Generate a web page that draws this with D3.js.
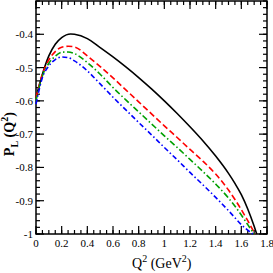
<!DOCTYPE html>
<html>
<head>
<meta charset="utf-8">
<script src="https://cdn.jsdelivr.net/npm/d3@7"></script>
<style>
  body { margin: 0; background: #fff; }
  text { font-family: "Liberation Serif", "DejaVu Serif", serif; }
</style>
</head>
<body>
<div id="chart"></div>
<script>
// values
const q2Black = [0, 0.05, 0.1, 0.15, 0.2, 0.27, 0.3, 0.4, 0.5, 0.6, 0.7, 0.8, 0.9, 1.0, 1.1, 1.2, 1.3, 1.4, 1.5, 1.55, 1.6, 1.65, 1.7, 1.72];
const pBlack  = [-0.59, -0.52, -0.465, -0.43, -0.41, -0.399, -0.4, -0.413, -0.44, -0.468, -0.498, -0.53, -0.564, -0.6, -0.638, -0.678, -0.72, -0.766, -0.818, -0.848, -0.882, -0.925, -0.977, -1.0];

const q2Red = [0, 0.05, 0.1, 0.15, 0.2, 0.25, 0.3, 0.4, 0.5, 0.6, 0.7, 0.8, 0.9, 1.0, 1.1, 1.2, 1.3, 1.4, 1.5, 1.6, 1.65, 1.7, 1.707];
const pRed  = [-0.59, -0.52, -0.477, -0.452, -0.439, -0.436, -0.438, -0.465, -0.497, -0.531, -0.567, -0.603, -0.639, -0.675, -0.71, -0.746, -0.781, -0.82, -0.868, -0.927, -0.96, -0.995, -1.0];

const q2Green = [0, 0.05, 0.1, 0.15, 0.2, 0.25, 0.3, 0.4, 0.5, 0.6, 0.7, 0.8, 0.9, 1.0, 1.1, 1.2, 1.3, 1.4, 1.5, 1.6, 1.65, 1.7];
const pGreen  = [-0.6, -0.525, -0.487, -0.466, -0.454, -0.453, -0.458, -0.485, -0.52, -0.56, -0.597, -0.633, -0.669, -0.705, -0.74, -0.776, -0.812, -0.85, -0.892, -0.943, -0.972, -1.0];

const q2Blue = [0, 0.05, 0.1, 0.15, 0.2, 0.25, 0.3, 0.4, 0.5, 0.6, 0.7, 0.8, 0.9, 1.0, 1.1, 1.2, 1.3, 1.4, 1.5, 1.55, 1.6, 1.69];
const pBlue  = [-0.61, -0.53, -0.495, -0.476, -0.468, -0.47, -0.48, -0.51, -0.549, -0.589, -0.627, -0.665, -0.702, -0.74, -0.777, -0.815, -0.852, -0.89, -0.93, -0.951, -0.972, -1.0];

const xTicks = [0, 0.2, 0.4, 0.6, 0.8, 1, 1.2, 1.4, 1.6, 1.8];
const yTicks = [-1, -0.9, -0.8, -0.7, -0.6, -0.5, -0.4];

const W = 273, H = 273;
const margin = { top: 1, right: 6, bottom: 39, left: 36 };
const width = W - margin.left - margin.right;
const height = H - margin.top - margin.bottom;

const svg = d3.select("#chart").append("svg")
  .attr("width", W)
  .attr("height", H);

const g = svg.append("g")
  .attr("transform", `translate(${margin.left},${margin.top})`);

const x = d3.scaleLinear().domain([0, 1.8]).range([0, width]);
const y = d3.scaleLinear().domain([-1, -0.3]).range([height, 0]);

// minor ticks
const xMinor = d3.range(0, 1.8001, 0.05);
const yMinor = d3.range(-1, -0.2999, 0.02);

function tickMarks(vals, len, side) {
  g.append("g").selectAll("line").data(vals).enter().append("line")
    .attr("x1", d => side === "b" || side === "t" ? x(d) : (side === "l" ? 0 : width))
    .attr("x2", d => side === "b" || side === "t" ? x(d) : (side === "l" ? len : width - len))
    .attr("y1", d => side === "l" || side === "r" ? y(d) : (side === "b" ? height : 0))
    .attr("y2", d => side === "l" || side === "r" ? y(d) : (side === "b" ? height - len : len))
    .attr("stroke", "#000")
    .attr("stroke-width", 1.2);
}
["b", "t"].forEach(s => { tickMarks(xMinor, 4, s); tickMarks(xTicks, 8, s); });
["l", "r"].forEach(s => { tickMarks(yMinor, 4, s); tickMarks(yTicks, 8, s); });

// frame
g.append("rect")
  .attr("width", width)
  .attr("height", height)
  .attr("fill", "none")
  .attr("stroke", "#000")
  .attr("stroke-width", 1.5);

// tick labels
g.selectAll(".xl").data(xTicks).enter().append("text")
  .attr("class", "xl")
  .attr("x", d => x(d))
  .attr("y", height + 13)
  .attr("text-anchor", "middle")
  .attr("font-size", 11)
  .text(d => d);

g.selectAll(".yl").data(yTicks).enter().append("text")
  .attr("class", "yl")
  .attr("x", -3)
  .attr("y", d => y(d) + 4)
  .attr("text-anchor", "end")
  .attr("font-size", 11)
  .text(d => d);

// curves
const line = d3.line()
  .x(d => x(d[0]))
  .y(d => y(d[1]))
  .curve(d3.curveMonotoneX);

const series = [
  { q: q2Black, p: pBlack, color: "#000000", dash: null, w: 1.6 },
  { q: q2Red, p: pRed, color: "#ff0000", dash: "6,3", w: 1.6 },
  { q: q2Green, p: pGreen, color: "#00a000", dash: "6,2.5,1.5,2.5", w: 1.6 },
  { q: q2Blue, p: pBlue, color: "#0000ff", dash: "5,2.5,1.5,2.5", w: 1.6 }
];

g.selectAll(".curve").data(series).enter().append("path")
  .attr("class", "curve")
  .attr("d", s => line(s.q.map((v, i) => [v, s.p[i]])))
  .attr("fill", "none")
  .attr("stroke", s => s.color)
  .attr("stroke-width", s => s.w)
  .attr("stroke-dasharray", s => s.dash);

// axis titles
const xt = svg.append("text")
  .attr("x", margin.left + x(0.98))
  .attr("y", 268)
  .attr("text-anchor", "middle")
  .attr("font-size", 14);
xt.append("tspan").text("Q");
xt.append("tspan").attr("dy", -6).attr("font-size", 10).text("2");
xt.append("tspan").attr("dy", 6).text(" (GeV");
xt.append("tspan").attr("dy", -6).attr("font-size", 10).text("2");
xt.append("tspan").attr("dy", 6).text(")");

const yt = svg.append("text")
  .attr("transform", `translate(14,${margin.top + y(-0.7)}) rotate(-90)`)
  .attr("text-anchor", "middle")
  .attr("font-size", 14)
  .attr("font-weight", "bold");
yt.append("tspan").text("P");
yt.append("tspan").attr("dy", 4).attr("font-size", 10).text("L");
yt.append("tspan").attr("dy", -4).text(" (Q");
yt.append("tspan").attr("dy", -6).attr("font-size", 10).text("2");
yt.append("tspan").attr("dy", 6).text(")");
</script>
</body>
</html>
